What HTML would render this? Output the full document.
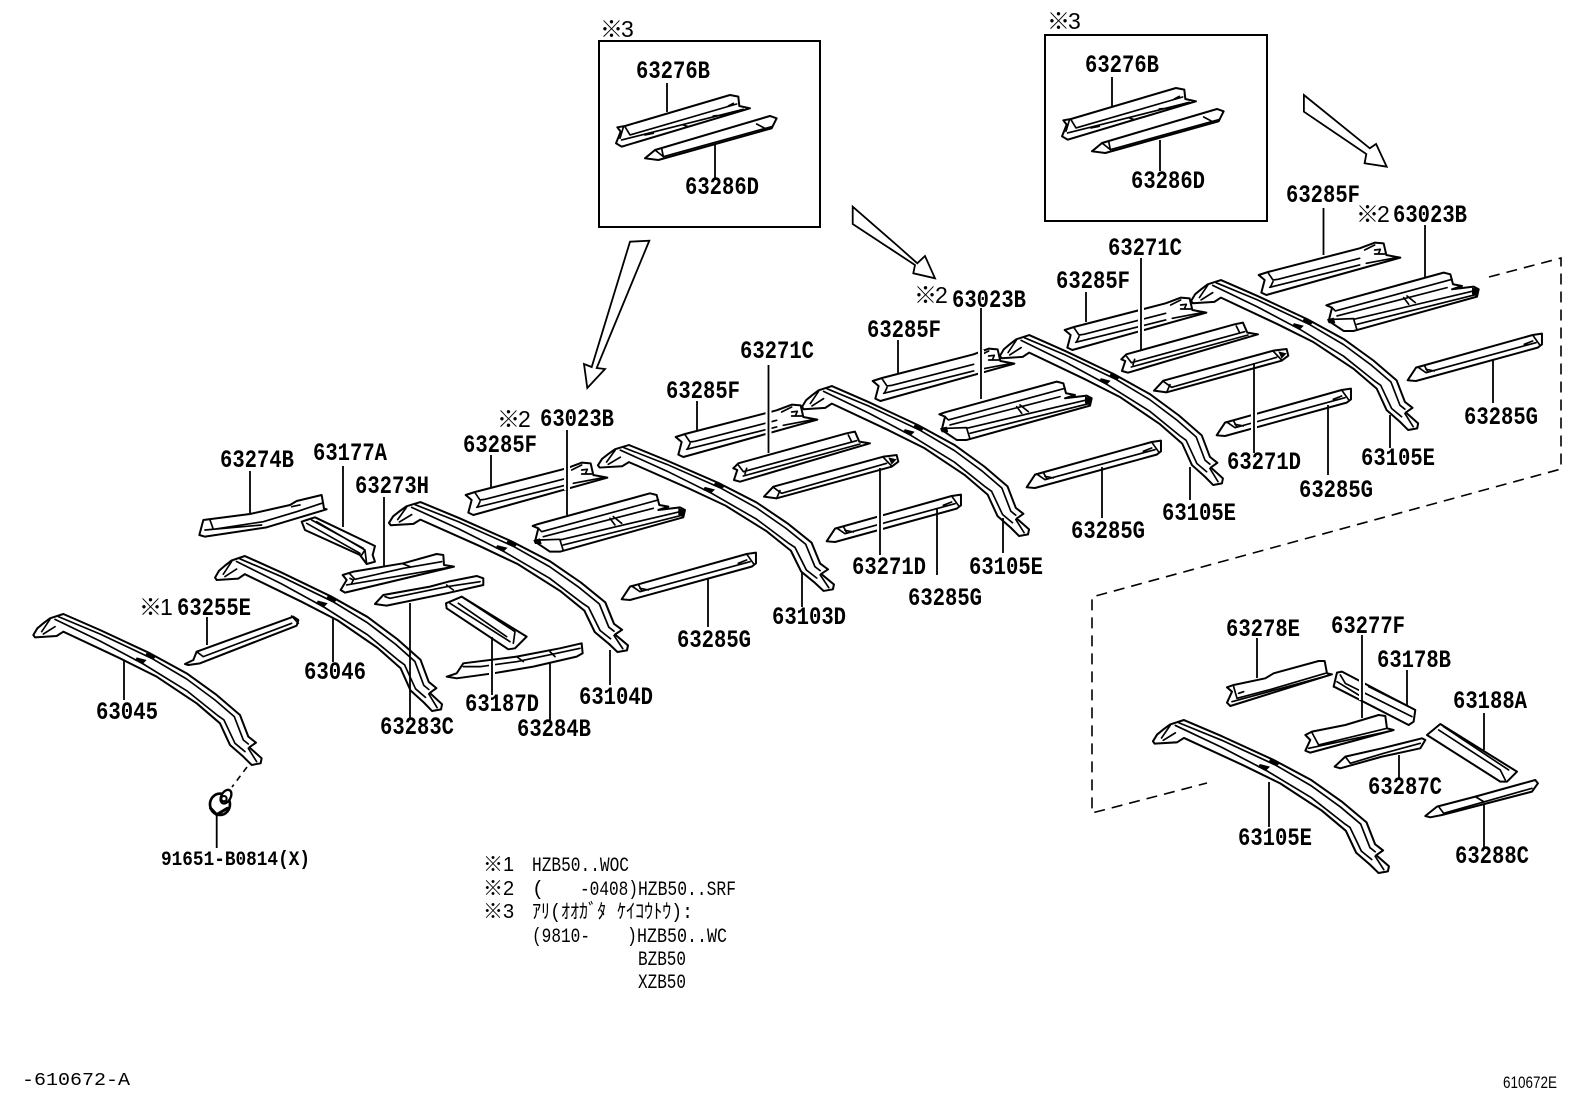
<!DOCTYPE html>
<html><head><meta charset="utf-8"><style>
html,body{margin:0;padding:0;background:#fff}
svg{display:block}
.p{fill:#fff;stroke:#000;stroke-width:6;stroke-linejoin:round;stroke-linecap:round}
.i{fill:none;stroke:#000;stroke-width:5;stroke-linejoin:round;stroke-linecap:round}
.k{fill:#000;stroke:none}
.l{stroke:#000;stroke-width:1.8;fill:none}
.g{stroke:#fff;stroke-width:6;fill:none}
.t{font:bold 25px "Liberation Mono",monospace;fill:#000}
.m{font:23px "Liberation Sans","Noto Sans CJK JP",sans-serif;letter-spacing:-2px;fill:#000}
.s{font:bold 20px "Liberation Mono",monospace;fill:#000}
.n{font:20px "Liberation Mono","Noto Sans CJK JP",monospace;fill:#000}
.n2{font:20px "Liberation Sans","Noto Sans CJK JP",sans-serif;fill:#000}
.f{font:17px "Liberation Sans",sans-serif;fill:#000}
</style></head><body>
<svg width="1592" height="1099" viewBox="0 0 1592 1099" xmlns="http://www.w3.org/2000/svg">
<defs>
<g id="rail">
<path class="p" d="M100,225L112,205L130,190L150,175L190,162L300,210L450,280L560,340L650,405L720,465L745,530L768,548L748,562L785,595L782,610L755,615L730,590L690,555L660,490L590,430L470,350L360,295L190,215L170,228L105,232Z"/>
<path class="i" d="M672,480L705,550L735,575M175,170L300,222L455,295L560,357L645,420L703,470L730,540L745,552M165,178L300,243L430,312L560,392L655,468L672,480M745,565L770,605M150,178L125,215M130,222L165,200"/>
<path class="k" d="M440,278L470,288L460,298L435,288ZM410,292L440,300L430,310L405,302Z"/>
</g>
<g id="F">
<path class="p" d="M197,285L225,276L500,205L545,188L572,190L580,225L622,233L220,345L205,338L215,300Z"/>
<path class="i" d="M225,278L240,300L255,298L500,235M240,305L233,320M230,322L500,255M515,210L545,195M545,222L575,222M545,210L562,208L556,222M520,250L615,232"/>
</g>
<g id="C">
<path class="p" d="M398,378L415,372L750,280L770,285L778,315L805,320L775,330L840,322L855,330L850,352L480,455L450,455L405,425L415,385Z"/>
<path class="i" d="M415,385L425,395L775,300M430,410L760,325M420,420L480,418M480,420L490,452M480,420L840,335M490,435L850,345M630,355L645,375M640,350L665,370"/>
<path class="k" d="M400,420L420,415L425,432L405,432ZM835,325L857,330L850,352L835,345Z"/>
</g>
<g id="A">
<path class="p" d="M1000,205L1015,190L1340,100L1365,95L1378,125L1410,130L1020,245L1002,240L1012,210Z"/>
<path class="i" d="M1015,195L1030,215L1370,122M1040,205L1035,222M1030,228L1380,132M1345,105L1355,125"/>
</g>
<g id="D">
<path class="p" d="M1092,290L1120,260L1450,170L1490,165L1495,185L1475,200L1130,295Z"/>
<path class="i" d="M1120,262L1145,280L1460,190M1130,295L1140,272M1450,172L1475,198"/>
<path class="k" d="M1465,172L1490,178L1475,194Z"/>
</g>
<g id="G">
<path class="p" d="M665,598L690,560L1040,462L1068,458L1068,490L1055,500L690,600Z"/>
<path class="i" d="M695,558L720,575L1050,485M715,553L725,572M1040,462L1060,490M720,565L745,570M1015,490L1040,480"/>
</g>
<g id="I">
<path class="p" d="M112,382L135,378L450,285L475,290L478,318L510,325L125,440L108,430L122,395Z"/>
<path class="i" d="M135,380L150,405L470,312M125,420L490,328M130,382L120,415M195,405L220,400M310,375L325,380M400,348L435,345M445,318L460,310"/>
</g>
<g id="J">
<path class="p" d="M195,475L225,450L570,348L590,355L575,385L235,480Z"/>
<path class="i" d="M225,450L250,470L575,380M245,445L250,470M530,372L555,385"/>
</g>
</defs>

<use href="#rail" transform="matrix(.3333,0,0,.3333,0,560)"/>
<use href="#rail" transform="matrix(.3314,0,0,.3422,181.9,500.6)"/>
<use href="#rail" transform="matrix(.3489,0,0,.3311,354.1,448.4)"/>
<use href="#rail" transform="matrix(.3445,0,0,.3222,563.5,392.8)"/>
<use href="#rail" transform="matrix(.3314,0,0,.3311,768.9,332.4)"/>
<use href="#rail" transform="matrix(.3255,0,0,.3311,967.4,281.4)"/>
<use href="#rail" transform="matrix(.3314,0,0,.3311,1158,226.4)"/>
<use href="#rail" transform="matrix(.3445,0,0,.3378,1118.5,665.3)"/>

<use href="#F" transform="matrix(.3333,0,0,.3333,400,400)"/>
<use href="#F" transform="matrix(.3333,0,0,.3333,610,342)"/>
<use href="#F" transform="matrix(.3333,0,0,.3333,807,286)"/>
<use href="#F" transform="matrix(.3333,0,0,.3333,999,235)"/>
<use href="#F" transform="matrix(.3333,0,0,.3333,1193,180)"/>
<use href="#C" transform="matrix(.3333,0,0,.3333,400,400)"/>
<use href="#C" transform="matrix(.3333,0,0,.3333,806.7,288.3)"/>
<use href="#C" transform="matrix(.3333,0,0,.3333,1193.7,179.3)"/>
<use href="#A" transform="matrix(.3333,0,0,.3333,400,400)"/>
<use href="#A" transform="matrix(.3333,0,0,.3333,788,291)"/>
<use href="#D" transform="matrix(.3333,0,0,.3333,400,400)"/>
<use href="#D" transform="matrix(.3333,0,0,.3333,790,294)"/>
<use href="#G" transform="matrix(.3333,0,0,.3333,400,400)"/>
<use href="#G" transform="matrix(.3333,0,0,.3333,605,342)"/>
<use href="#G" transform="matrix(.3333,0,0,.3333,805,288)"/>
<use href="#G" transform="matrix(.3333,0,0,.3333,995,236)"/>
<use href="#G" transform="matrix(.3333,0,0,.3333,1186,181)"/>
<use href="#I" transform="matrix(.3333,0,0,.3333,580,0)"/>
<use href="#I" transform="matrix(.3333,0,0,.3333,1026,-7)"/>
<use href="#J" transform="matrix(.3333,0,0,.3333,580,0)"/>
<use href="#J" transform="matrix(.3333,0,0,.3333,1027,-7)"/>

<g transform="matrix(.3333,0,0,.3333,0,560)">
<path class="p" d="M555,312L580,300L590,275L880,170L895,180L890,197L600,310L565,315Z"/>
<path class="i" d="M590,275L610,290L875,190M875,168L895,190"/>
<ellipse class="p" cx="660" cy="733" rx="30" ry="32" style="stroke-width:8"/>
<ellipse class="p" cx="678" cy="710" rx="14" ry="22" transform="rotate(30 678 710)" style="stroke-width:7"/>
<circle class="p" cx="672" cy="716" r="8"/>
<path class="i" style="stroke-width:9" d="M632,745L650,764L682,745"/>
</g>
<g transform="matrix(.3333,0,0,.3333,190,440)">
<path class="p" d="M335,245L350,240L375,232L555,318L548,345L555,365L530,372L510,345L345,270Z"/>
<path class="i" d="M380,245L525,330L515,345M350,250L510,340M525,330L530,372M365,240L520,325"/>
<path class="p" d="M28,285L40,240L180,222L300,195L320,183L395,165L402,205L410,208L230,262L45,290Z"/>
<path class="i" d="M60,240L70,268L220,245L320,215L395,190M45,270L215,255M305,200L330,195"/>
<path class="p" d="M458,405L490,395L640,370L740,342L760,345L762,375L792,380L465,458L452,450L470,420Z"/>
<path class="i" d="M478,400L495,418L640,385L755,365M470,435L790,380M480,415L490,420L485,430M640,372L660,380"/>
<path class="p" d="M555,492L580,465L720,440L775,425L860,408L880,415L880,435L770,460L590,497Z"/>
<path class="i" d="M585,470L600,475L770,440L870,425M770,435L790,450"/>
</g>
<g transform="matrix(.3333,0,0,.3333,400,400)">
<path class="p" d="M138,610L185,590L380,710L345,745L325,748L140,625Z"/>
<path class="i" d="M150,610L330,725M185,590L345,695L340,730M175,610L320,710"/>
<path class="p" d="M140,830L170,820L190,790L350,770L480,745L545,730L548,760L530,770L400,800L280,820L170,835Z"/>
<path class="i" d="M190,800L240,800L350,785L470,760L540,745M350,770L370,785M450,755L465,770"/>
</g>
<g transform="matrix(.3333,0,0,.3333,1092,580)">
<path class="p" d="M405,322L425,315L520,295L545,280L680,243L698,243L705,280L720,283L415,378L405,368L420,335Z"/>
<path class="i" d="M425,320L435,355L530,330L700,280M420,365L715,285M440,340L455,335"/>
<path class="p" d="M725,320L735,278L750,275L970,390L965,425L950,435L730,322Z"/>
<path class="i" d="M745,285L760,310L960,410M735,305L800,345M830,320L950,380"/>
<path class="p" d="M640,465L660,455L760,435L860,405L880,408L885,445L905,450L655,518L640,512L655,480Z"/>
<path class="i" d="M660,458L680,495L885,445M650,505L900,452"/>
<path class="p" d="M728,560L760,530L870,505L990,475L1000,480L985,505L870,530L745,565Z"/>
<path class="i" d="M760,530L775,550L875,520L985,490"/>
<path class="p" d="M1005,465L1045,432L1275,575L1245,605L1225,605Z"/>
<path class="i" d="M1040,450L1225,570L1240,600M1055,440L1250,570"/>
<path class="p" d="M1000,708L1035,680L1150,650L1330,600L1338,610L1320,635L1050,705L1015,712Z"/>
<path class="i" d="M1040,680L1055,700L1320,625M1150,650L1175,665"/>
</g>

<rect x="599" y="41" width="221" height="186" fill="none" stroke="#000" stroke-width="2"/>
<rect x="1045" y="35" width="222" height="186" fill="none" stroke="#000" stroke-width="2"/>

<g fill="#fff" stroke="#000" stroke-width="1.8" stroke-linejoin="miter">
<path d="M630,241.7L649.3,240.7L596.7,368L605,369L587.3,388L584,364L591.7,367Z"/>
<path d="M852.7,206.7L896.7,245L917.3,263.3L925,256L935,278.3L913.3,273.3L915,265L852.7,224Z"/>
<path d="M1303.9,95L1369.8,148.3L1376.1,144L1386.7,166.7L1364.6,163.3L1366.3,154L1303.9,111.7Z"/>
</g>

<g fill="none" stroke="#000" stroke-width="1.6" stroke-dasharray="11 7">
<path d="M1489,277L1561,258L1561,469L1092,597L1092,813L1207,783"/>
<path d="M247,767L232,787" stroke-dasharray="6 5"/>
</g>

<path class="g" d="M567 462V490M768.5 405V450M981 350V399M1141 300V345M880 510V535M1254 400V440M1362 678V700M492 662V680"/>
<path class="l" d="M124 660V700M207 617V645M333 618V662M410 603V718M216.7 815V848M492 637V695M550 662V720M610 650V685M708 579V627M802 573V607M880 468V555M937 508V575M1003 518V553M1102 467V518M1190 467V500M1254 363V453M1328 405V475M1390 415V448M1493 360V403M1323.5 208V255M1425 225V277M1141 258V350M1086 292V322M981 308V399M898 340V373M768.5 365V453M697 401V430M567 430V515M491 455V487M250 471V513M343 466V527M384 497V567M667 83V112M715 145V178M1112 77V107M1160 140V171M1257 638V678M1362 635V718M1407 670V705M1484 713V750M1399 755V780M1484 805V847M1269 782V827"/>

<text class="t" textLength="62" lengthAdjust="spacingAndGlyphs" x="96" y="719">63045</text>
<text class="m" x="139" y="615">※1</text><text class="t" textLength="74" lengthAdjust="spacingAndGlyphs" x="177" y="615">63255E</text>
<text class="t" textLength="62" lengthAdjust="spacingAndGlyphs" x="304" y="679">63046</text>
<text class="t" textLength="74" lengthAdjust="spacingAndGlyphs" x="380" y="734">63283C</text>
<text class="s" textLength="149" lengthAdjust="spacingAndGlyphs" x="161" y="865">91651-B0814(X)</text>
<text class="t" textLength="74" lengthAdjust="spacingAndGlyphs" x="465" y="711">63187D</text>
<text class="t" textLength="74" lengthAdjust="spacingAndGlyphs" x="517" y="736">63284B</text>
<text class="t" textLength="74" lengthAdjust="spacingAndGlyphs" x="579" y="704">63104D</text>
<text class="t" textLength="74" lengthAdjust="spacingAndGlyphs" x="677" y="647">63285G</text>
<text class="t" textLength="74" lengthAdjust="spacingAndGlyphs" x="772" y="624">63103D</text>
<text class="t" textLength="74" lengthAdjust="spacingAndGlyphs" x="852" y="574">63271D</text>
<text class="t" textLength="74" lengthAdjust="spacingAndGlyphs" x="908" y="605">63285G</text>
<text class="t" textLength="74" lengthAdjust="spacingAndGlyphs" x="969" y="574">63105E</text>
<text class="t" textLength="74" lengthAdjust="spacingAndGlyphs" x="1071" y="538">63285G</text>
<text class="t" textLength="74" lengthAdjust="spacingAndGlyphs" x="1162" y="520">63105E</text>
<text class="t" textLength="74" lengthAdjust="spacingAndGlyphs" x="1227" y="469">63271D</text>
<text class="t" textLength="74" lengthAdjust="spacingAndGlyphs" x="1299" y="497">63285G</text>
<text class="t" textLength="74" lengthAdjust="spacingAndGlyphs" x="1361" y="465">63105E</text>
<text class="t" textLength="74" lengthAdjust="spacingAndGlyphs" x="1464" y="424">63285G</text>
<text class="t" textLength="74" lengthAdjust="spacingAndGlyphs" x="1286" y="202">63285F</text>
<text class="m" x="1356" y="222">※2</text><text class="t" textLength="74" lengthAdjust="spacingAndGlyphs" x="1393" y="222">63023B</text>
<text class="t" textLength="74" lengthAdjust="spacingAndGlyphs" x="1108" y="255">63271C</text>
<text class="t" textLength="74" lengthAdjust="spacingAndGlyphs" x="1056" y="288">63285F</text>
<text class="m" x="914" y="303">※2</text><text class="t" textLength="74" lengthAdjust="spacingAndGlyphs" x="952" y="307">63023B</text>
<text class="t" textLength="74" lengthAdjust="spacingAndGlyphs" x="867" y="337">63285F</text>
<text class="t" textLength="74" lengthAdjust="spacingAndGlyphs" x="740" y="358">63271C</text>
<text class="t" textLength="74" lengthAdjust="spacingAndGlyphs" x="666" y="398">63285F</text>
<text class="m" x="497" y="427">※2</text><text class="t" textLength="74" lengthAdjust="spacingAndGlyphs" x="540" y="426">63023B</text>
<text class="t" textLength="74" lengthAdjust="spacingAndGlyphs" x="463" y="452">63285F</text>
<text class="t" textLength="74" lengthAdjust="spacingAndGlyphs" x="220" y="467">63274B</text>
<text class="t" textLength="74" lengthAdjust="spacingAndGlyphs" x="313" y="460">63177A</text>
<text class="t" textLength="74" lengthAdjust="spacingAndGlyphs" x="355" y="493">63273H</text>
<text class="m" x="600" y="37">※3</text>
<text class="t" textLength="74" lengthAdjust="spacingAndGlyphs" x="636" y="78">63276B</text>
<text class="t" textLength="74" lengthAdjust="spacingAndGlyphs" x="685" y="194">63286D</text>
<text class="m" x="1047" y="29">※3</text>
<text class="t" textLength="74" lengthAdjust="spacingAndGlyphs" x="1085" y="72">63276B</text>
<text class="t" textLength="74" lengthAdjust="spacingAndGlyphs" x="1131" y="188">63286D</text>
<text class="t" textLength="74" lengthAdjust="spacingAndGlyphs" x="1226" y="636">63278E</text>
<text class="t" textLength="74" lengthAdjust="spacingAndGlyphs" x="1331" y="633">63277F</text>
<text class="t" textLength="74" lengthAdjust="spacingAndGlyphs" x="1377" y="667">63178B</text>
<text class="t" textLength="74" lengthAdjust="spacingAndGlyphs" x="1453" y="708">63188A</text>
<text class="t" textLength="74" lengthAdjust="spacingAndGlyphs" x="1368" y="794">63287C</text>
<text class="t" textLength="74" lengthAdjust="spacingAndGlyphs" x="1455" y="863">63288C</text>
<text class="t" textLength="74" lengthAdjust="spacingAndGlyphs" x="1238" y="845">63105E</text>

<text class="n2" x="483" y="871">※1</text><text class="n" textLength="97" lengthAdjust="spacingAndGlyphs" x="532" y="871">HZB50..WOC</text>
<text class="n2" x="483" y="895">※2</text><text class="n" x="532" y="895">(</text><text class="n" textLength="58" lengthAdjust="spacingAndGlyphs" x="580" y="895">-0408)</text><text class="n" textLength="98" lengthAdjust="spacingAndGlyphs" x="638" y="895">HZB50..SRF</text>
<text class="n2" x="483" y="918">※3</text><text class="n" x="532" y="918" textLength="161" lengthAdjust="spacingAndGlyphs">ｱﾘ(ｵｵｶﾞﾀ ｹｲｺｳﾄｳ):</text>
<text class="n" textLength="58" lengthAdjust="spacingAndGlyphs" x="532" y="942">(9810-</text><text class="n" textLength="100" lengthAdjust="spacingAndGlyphs" x="627" y="942">)HZB50..WC</text>
<text class="n" textLength="48" lengthAdjust="spacingAndGlyphs" x="638" y="965">BZB50</text>
<text class="n" textLength="48" lengthAdjust="spacingAndGlyphs" x="638" y="988">XZB50</text>

<text class="s" x="22" y="1085" style="font-weight:normal;font-size:18px" textLength="108" lengthAdjust="spacingAndGlyphs">-610672-A</text>
<text class="f" x="1503" y="1088" textLength="54" lengthAdjust="spacingAndGlyphs">610672E</text>
</svg>
</body></html>
